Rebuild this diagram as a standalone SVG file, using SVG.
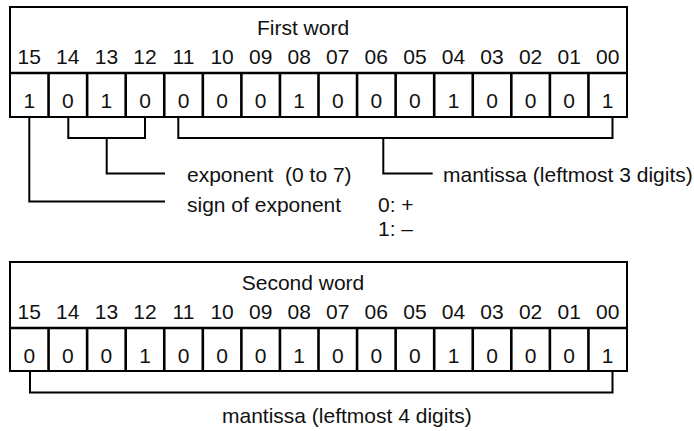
<svg xmlns="http://www.w3.org/2000/svg" width="694" height="431" viewBox="0 0 694 431">
<style>
.box{fill:#fff;stroke:#000;stroke-width:2}
.ln{fill:none;stroke:#000;stroke-width:2}
.dv{fill:none;stroke:#000;stroke-width:2.6}
text{font-family:"Liberation Sans",Arial,sans-serif;font-size:21px;fill:#111}
.c{text-anchor:middle}
</style>
<rect width="694" height="431" fill="#fff"/>
<g id="word1">
<rect class="box" x="10" y="7" width="617" height="110"/>
<path class="dv" d="M10 73H627 M48.56 73V117 M87.13 73V117 M125.69 73V117 M164.25 73V117 M202.81 73V117 M241.38 73V117 M279.94 73V117 M318.5 73V117 M357.06 73V117 M395.63 73V117 M434.19 73V117 M472.75 73V117 M511.31 73V117 M549.88 73V117 M588.44 73V117"/>
<text class="c" x="303" y="35">First word</text>
<g class="c">
<text x="29.3" y="64">15</text><text x="67.8" y="64">14</text><text x="106.4" y="64">13</text><text x="145" y="64">12</text><text x="183.5" y="64">11</text><text x="222.1" y="64">10</text><text x="260.7" y="64">09</text><text x="299.2" y="64">08</text><text x="337.8" y="64">07</text><text x="376.3" y="64">06</text><text x="414.9" y="64">05</text><text x="453.5" y="64">04</text><text x="492" y="64">03</text><text x="530.6" y="64">02</text><text x="569.2" y="64">01</text><text x="607.7" y="64">00</text>
<text x="29.3" y="108">1</text><text x="67.8" y="108">0</text><text x="106.4" y="108">1</text><text x="145" y="108">0</text><text x="183.5" y="108">0</text><text x="222.1" y="108">0</text><text x="260.7" y="108">0</text><text x="299.2" y="108">1</text><text x="337.8" y="108">0</text><text x="376.3" y="108">0</text><text x="414.9" y="108">0</text><text x="453.5" y="108">1</text><text x="492" y="108">0</text><text x="530.6" y="108">0</text><text x="569.2" y="108">0</text><text x="607.7" y="108">1</text>
</g>
</g>
<g id="labels1">
<text x="187" y="182" xml:space="preserve">exponent  (0 to 7)</text>
<text x="443" y="182">mantissa (leftmost 3 digits)</text>
<text x="187" y="212">sign of exponent</text>
<text x="378" y="212">0: +</text>
<text x="378" y="236">1: –</text>
</g>
<g id="word2">
<rect class="box" x="10" y="262" width="617" height="109"/>
<path class="dv" d="M10 328H627 M48.56 328V371 M87.13 328V371 M125.69 328V371 M164.25 328V371 M202.81 328V371 M241.38 328V371 M279.94 328V371 M318.5 328V371 M357.06 328V371 M395.63 328V371 M434.19 328V371 M472.75 328V371 M511.31 328V371 M549.88 328V371 M588.44 328V371"/>
<text class="c" x="303" y="290">Second word</text>
<g class="c">
<text x="29.3" y="319">15</text><text x="67.8" y="319">14</text><text x="106.4" y="319">13</text><text x="145" y="319">12</text><text x="183.5" y="319">11</text><text x="222.1" y="319">10</text><text x="260.7" y="319">09</text><text x="299.2" y="319">08</text><text x="337.8" y="319">07</text><text x="376.3" y="319">06</text><text x="414.9" y="319">05</text><text x="453.5" y="319">04</text><text x="492" y="319">03</text><text x="530.6" y="319">02</text><text x="569.2" y="319">01</text><text x="607.7" y="319">00</text>
<text x="29.3" y="363">0</text><text x="67.8" y="363">0</text><text x="106.4" y="363">0</text><text x="145" y="363">1</text><text x="183.5" y="363">0</text><text x="222.1" y="363">0</text><text x="260.7" y="363">0</text><text x="299.2" y="363">1</text><text x="337.8" y="363">0</text><text x="376.3" y="363">0</text><text x="414.9" y="363">0</text><text x="453.5" y="363">1</text><text x="492" y="363">0</text><text x="530.6" y="363">0</text><text x="569.2" y="363">0</text><text x="607.7" y="363">1</text>
</g>
</g>
<g id="labels2">
<text x="222" y="423">mantissa (leftmost 4 digits)</text>
</g>
<g id="connectors">
<path class="ln" d="M29.3 117V201.5H165"/>
<path class="ln" d="M68.3 117V138H145V117 M106.7 138V173.5H165"/>
<path class="ln" d="M178.3 117V138H612.5V117 M383.3 138V173.5H432.7"/>
<path class="ln" d="M30 371V392.5H612.5V371"/>
</g>
</svg>
